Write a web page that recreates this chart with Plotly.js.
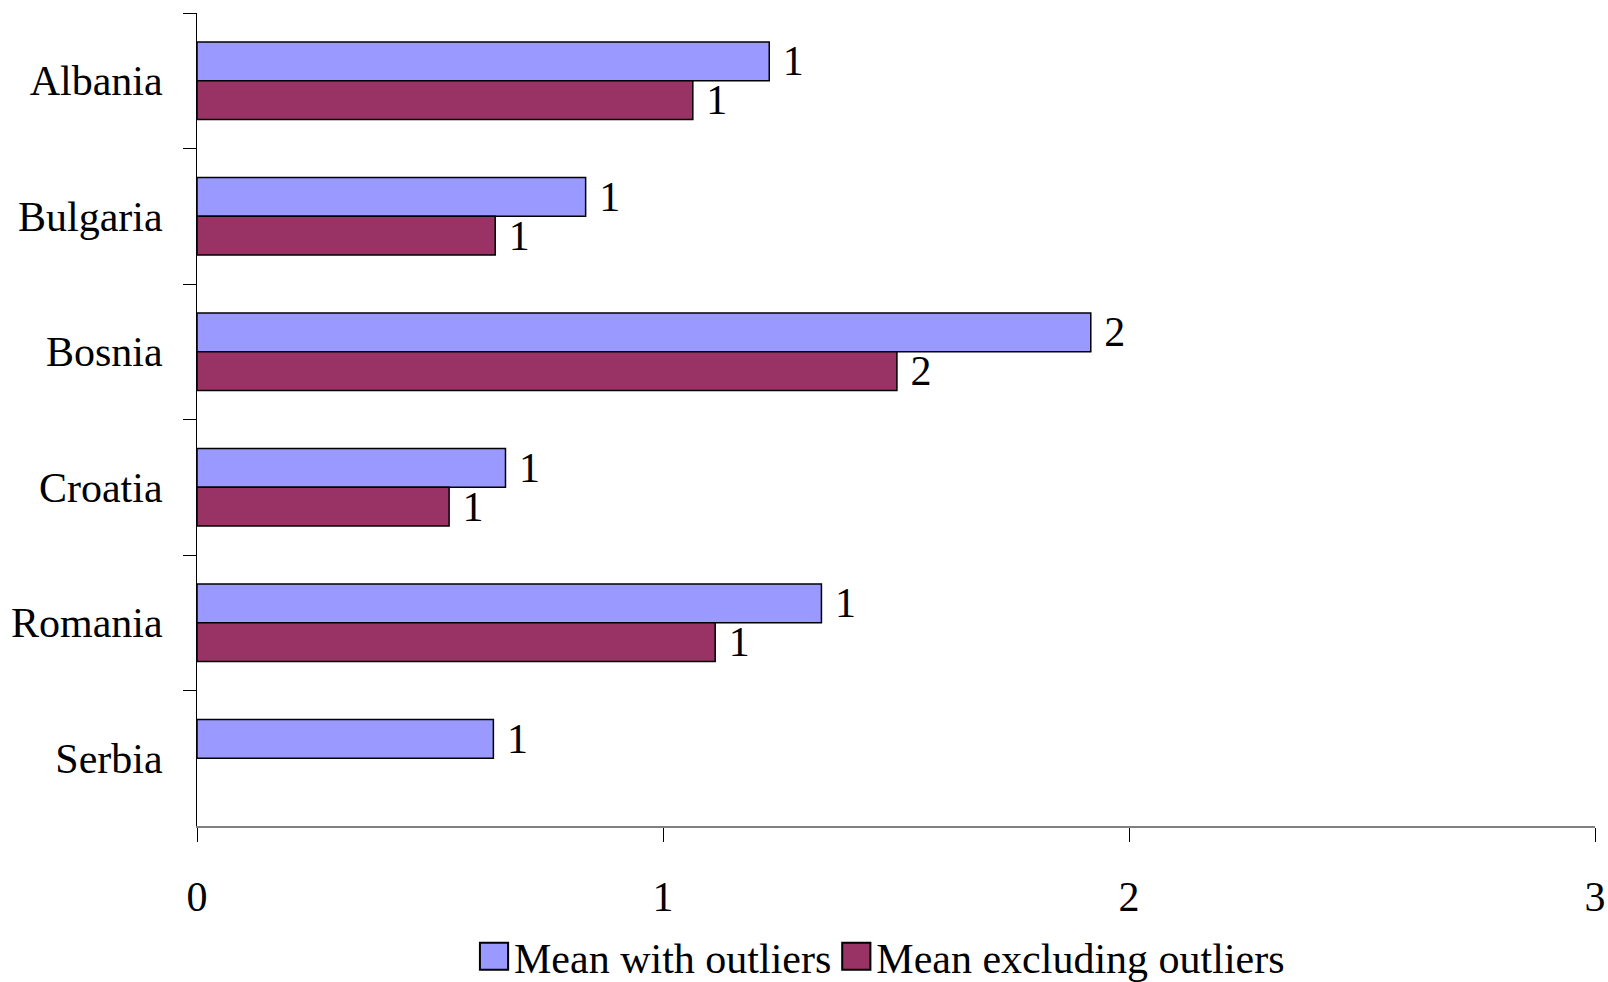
<!DOCTYPE html>
<html>
<head>
<meta charset="utf-8">
<script src="https://cdn.plot.ly/plotly-3.0.1.min.js"></script>
<style>html,body{margin:0;padding:0;background:#fff;}#chart{width:1608px;height:982px;}</style>
</head>
<body>
<div id="chart"></div>
<script>
const countries = ["Albania", "Bulgaria", "Bosnia", "Croatia", "Romania", "Serbia"];
const meanWithOutliers = [1.228, 0.834, 1.918, 0.662, 1.340, 0.636];
const meanExcludingOutliers = [1.064, 0.640, 1.502, 0.541, 1.112, null];
const xTickValues = [0, 1, 2, 3];
const seriesNames = ["Mean with outliers", "Mean excluding outliers"];

const FONT = "Liberation Serif, Times New Roman, serif";
const FS = 42;
const labelOf = v => (v === null ? "" : " " + String(Math.round(v)));

const traces = [
  {
    type: "bar", orientation: "h", name: seriesNames[0],
    y: countries, x: meanWithOutliers,
    text: meanWithOutliers.map(labelOf),
    textposition: "outside", constraintext: "none", cliponaxis: false,
    textfont: {family: FONT, size: FS, color: "#000"},
    marker: {color: "#9999FF", line: {color: "#000", width: 1.5}},
    hoverinfo: "x+y"
  },
  {
    type: "bar", orientation: "h", name: seriesNames[1],
    y: countries, x: meanExcludingOutliers,
    text: meanExcludingOutliers.map(labelOf),
    textposition: "outside", constraintext: "none", cliponaxis: false,
    textfont: {family: FONT, size: FS, color: "#000"},
    marker: {color: "#993366", line: {color: "#000", width: 1.5}},
    hoverinfo: "x+y"
  }
];

const layout = {
  width: 1608, height: 982,
  margin: {l: 197, r: 13, t: 13, b: 156},
  paper_bgcolor: "#fff", plot_bgcolor: "#fff",
  font: {family: FONT, size: FS, color: "#000"},
  barmode: "group", bargap: 0.428, bargroupgap: 0,
  showlegend: true,
  legend: {
    orientation: "h", x: 0.49, xanchor: "center",
    yref: "container", y: 0.026, yanchor: "middle",
    font: {family: FONT, size: FS, color: "#000"},
    traceorder: "normal", itemclick: false
  },
  xaxis: {
    range: [0, 3], tickvals: xTickValues, ticktext: xTickValues.map(String),
    ticks: "outside", ticklen: 14, tickcolor: "#000", tickwidth: 1,
    showline: true, linecolor: "#808080", linewidth: 2,
    showgrid: false, zeroline: false, ticklabelstandoff: 19,
    tickfont: {family: FONT, size: FS, color: "#000"}
  },
  yaxis: {
    type: "category", autorange: "reversed",
    ticks: "outside", tickson: "boundaries", ticklen: 13, tickcolor: "#000", tickwidth: 1,
    showline: true, linecolor: "#000", linewidth: 1,
    showgrid: false, zeroline: false, ticklabelstandoff: 25,
    tickfont: {family: FONT, size: FS, color: "#000"}
  }
};

function enlargeLegendSwatches(gd) {
  gd.querySelectorAll("g.legendpoints path").forEach(function (p) {
    if (p.getAttribute("data-enlarged")) return;
    const base = p.getAttribute("transform") || "";
    p.setAttribute("transform", base + " scale(2.35,2.25)");
    p.setAttribute("data-enlarged", "1");
    p.style.vectorEffect = "non-scaling-stroke";
    p.style.strokeWidth = "2px";
    p.style.stroke = "#000";
  });
}

Plotly.newPlot("chart", traces, layout, {displayModeBar: false, staticPlot: true}).then(function (gd) {
  enlargeLegendSwatches(gd);
});
</script>
</body>
</html>
